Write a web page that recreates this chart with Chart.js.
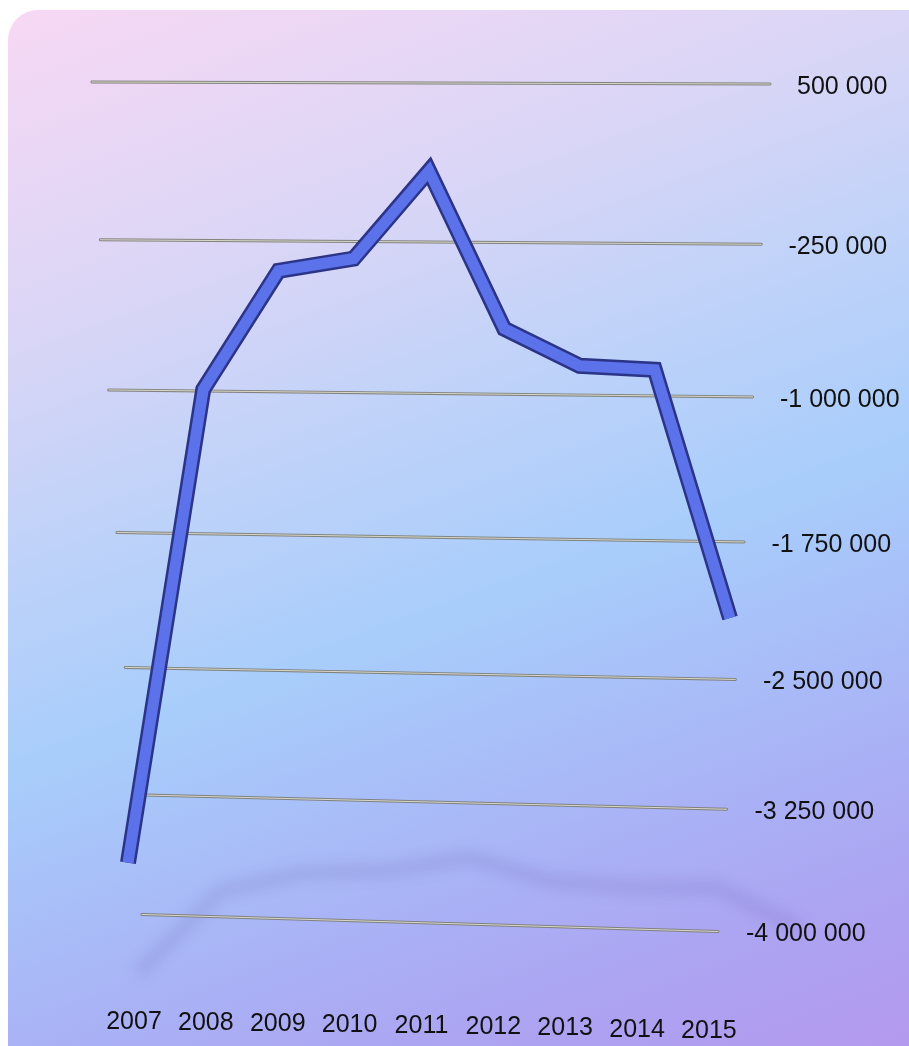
<!DOCTYPE html>
<html>
<head>
<meta charset="utf-8">
<script src="https://cdn.jsdelivr.net/npm/chart.js@4/dist/chart.umd.min.js"></script>
<style>
  html, body { margin: 0; padding: 0; background: #fff; overflow: hidden; }
  #card {
    position: absolute; left: 8px; top: 10px; width: 940px; height: 1080px;
    border-radius: 30px;
    background: linear-gradient(160deg, #f7d8f4 0%, #dcd6f6 22%, #bdd2f9 40%, #a8cdfb 54%, #a9b4f6 72%, #ada2f1 86%, #b796ee 100%);
  }
  #myChart { position: absolute; left: 0; top: 0; }
</style>
</head>
<body>
<div id="card"></div>
<canvas id="myChart" width="909" height="1046"></canvas>
<script>
const years = ["2007", "2008", "2009", "2010", "2011", "2012", "2013", "2014", "2015"];
const balance = [-3620000, -980000, -390000, -330000, 90000, -675000, -860000, -880000, -2190000];
const yTicks = [500000, -250000, -1000000, -1750000, -2500000, -3250000, -4000000];

// tilted view: rows get closer together towards the bottom
class PerspectiveScale extends Chart.LinearScale {
  getPixelForValue(value) {
    const t = (this.max - value) / (this.max - this.min);
    return this.top + (this.bottom - this.top) * (1.163 * t - 0.163 * t * t);
  }
  getValueForPixel(pixel) {
    const s = (pixel - this.top) / (this.bottom - this.top);
    const t = (1.163 - Math.sqrt(1.163 * 1.163 - 4 * 0.163 * s)) / (2 * 0.163);
    return this.max - t * (this.max - this.min);
  }
}
PerspectiveScale.id = "perspective";
PerspectiveScale.defaults = Chart.LinearScale.defaults;
Chart.register(PerspectiveScale);

const fmt = (v) => (v < 0 ? "-" : "") + String(Math.abs(v)).replace(/\B(?=(\d{3})+(?!\d))/g, " ");

const depthPlugin = {
  id: "depth",
  beforeDatasetsDraw(chart) {
    const ctx = chart.ctx;
    const x = chart.scales.x;
    const y = chart.scales.y;

    // floor shadow of the line
    ctx.save();
    ctx.filter = "blur(7px)";
    ctx.strokeStyle = "rgba(70, 50, 140, 0.13)";
    ctx.lineWidth = 13;
    ctx.lineJoin = "round";
    ctx.beginPath();
    balance.forEach((v, i) => {
      const px = x.getPixelForValue(i);
      const sx = px + (px - x.left) * 0.1 + 10;
      const sy = 985 - ((v - y.min) / (y.max - y.min)) * 140;
      if (i === 0) ctx.moveTo(sx, sy);
      else ctx.lineTo(sx, sy);
    });
    ctx.stroke();
    ctx.restore();

    // grid rods and y labels
    ctx.save();
    yTicks.forEach((v) => {
      const c = y.getPixelForValue(v);
      const t = (y.max - v) / (y.max - y.min);
      const xl = 92 + 50 * t;
      const xr = 770 - 52 * t;
      const d = 1 + 7.5 * t;
      ctx.lineCap = "round";
      ctx.strokeStyle = "rgba(125, 125, 120, 0.95)";
      ctx.lineWidth = 3;
      ctx.beginPath();
      ctx.moveTo(xl, c - d);
      ctx.lineTo(xr, c + d);
      ctx.stroke();
      ctx.strokeStyle = "rgba(225, 225, 210, 0.9)";
      ctx.lineWidth = 1;
      ctx.beginPath();
      ctx.moveTo(xl, c - d);
      ctx.lineTo(xr, c + d);
      ctx.stroke();

      ctx.fillStyle = "#111";
      ctx.font = '25px "Liberation Sans", Arial, sans-serif';
      ctx.textAlign = "left";
      ctx.textBaseline = "middle";
      ctx.fillText(fmt(v), 797 - 51 * t, c + d + 3);
    });

    // x labels
    ctx.font = '25px "Liberation Sans", Arial, sans-serif';
    ctx.textAlign = "center";
    years.forEach((lab, i) => {
      const px = x.getPixelForValue(i);
      ctx.fillText(lab, 134 + (px - x.left) * 0.955, 1022 + i * 1.1);
    });
    ctx.restore();
  },
};

const config = {
  type: "line",
  data: {
    labels: years,
    datasets: [
      {
        label: "Balance",
        data: balance,
        borderColor: "#5b72ea",
        borderWidth: 11,
        borderJoinStyle: "miter",
        pointRadius: 0,
        tension: 0,
      },
      {
        label: "edge",
        data: balance,
        borderColor: "#2c3488",
        borderWidth: 16,
        borderJoinStyle: "miter",
        pointRadius: 0,
        tension: 0,
      },
    ],
  },
  options: {
    responsive: false,
    animation: false,
    layout: {
      padding: { left: 128, right: 179, top: 83, bottom: 123 },
    },
    plugins: {
      legend: { display: false },
      tooltip: { enabled: false },
    },
    scales: {
      x: { type: "category", display: false, offset: false },
      y: { type: "perspective", display: false, min: -4000000, max: 500000 },
    },
  },
  plugins: [depthPlugin],
};

const chart = new Chart(document.getElementById("myChart"), config);
</script>
</body>
</html>
